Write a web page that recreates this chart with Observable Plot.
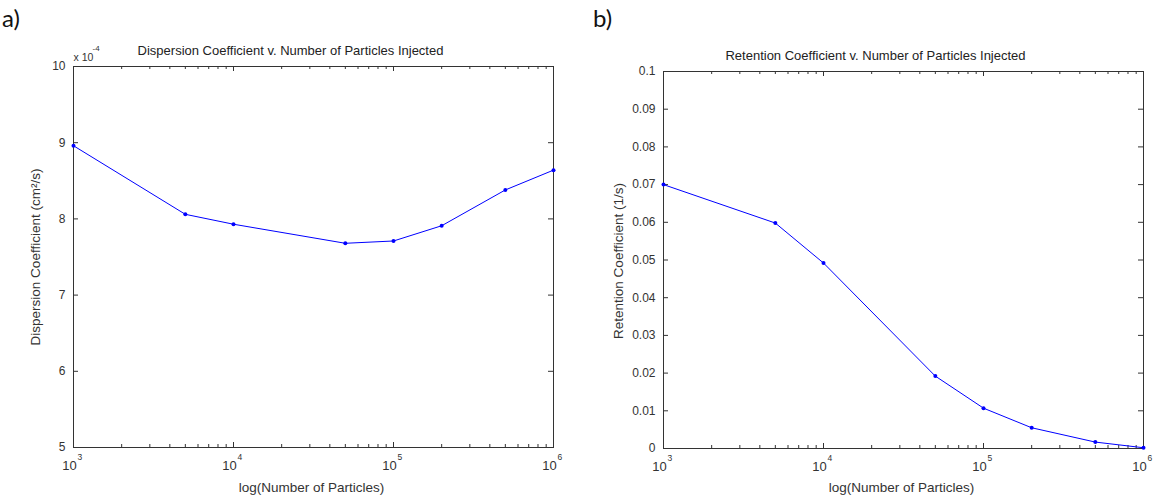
<!DOCTYPE html>
<html>
<head>
<meta charset="utf-8">
<script src="https://cdn.jsdelivr.net/npm/d3@7"></script>
<script src="https://cdn.jsdelivr.net/npm/@observablehq/plot@0.6"></script>
<style>
  html, body { margin: 0; padding: 0; background: #fff; }
  #wrap { position: relative; width: 1158px; height: 496px; overflow: hidden; background: #fff; }
  .panel { position: absolute; top: 0; }
  .tag { position: absolute; font-family: Lato, "Open Sans", sans-serif; font-size: 24px; line-height: 24px; color: #111; }
</style>
</head>
<body>
<div id="wrap">
  <div class="tag" style="left:2px; top:6px;">a)</div>
  <div class="tag" style="left:593px; top:6px;">b)</div>
  <div id="pa" class="panel" style="left:0px;"></div>
  <div id="pb" class="panel" style="left:579px;"></div>
</div>
<script>
// ---- data ----
const particles = [1e3, 5e3, 1e4, 5e4, 1e5, 2e5, 5e5, 1e6];
const dispersion = [8.96e-4, 8.06e-4, 7.93e-4, 7.68e-4, 7.71e-4, 7.91e-4, 8.38e-4, 8.64e-4];
const retention = [0.070, 0.0598, 0.0492, 0.0192, 0.0107, 0.0055, 0.0017, 0.0002];

const xMajorTicks = [1e3, 1e4, 1e5, 1e6];
const xMajorBase = "10";
const xMajorExponents = ["3", "4", "5", "6"];
const xMinorTicks = [2e3, 3e3, 4e3, 5e3, 6e3, 7e3, 8e3, 9e3,
                     2e4, 3e4, 4e4, 5e4, 6e4, 7e4, 8e4, 9e4,
                     2e5, 3e5, 4e5, 5e5, 6e5, 7e5, 8e5, 9e5];

const dispTicks = [5e-4, 6e-4, 7e-4, 8e-4, 9e-4, 10e-4];
const dispTickLabels = ["5", "6", "7", "8", "9", "10"];
const retTicks = [0, 0.01, 0.02, 0.03, 0.04, 0.05, 0.06, 0.07, 0.08, 0.09, 0.1];
const retTickLabels = ["0", "0.01", "0.02", "0.03", "0.04", "0.05", "0.06", "0.07", "0.08", "0.09", "0.1"];

const titleA = "Dispersion Coefficient v. Number of Particles Injected";
const titleB = "Retention Coefficient v. Number of Particles Injected";
const yLabelA = "Dispersion Coefficient (cm²/s)";
const yLabelB = "Retention Coefficient (1/s)";
const xLabel = "log(Number of Particles)";
const scaleBaseA = "x 10";
const scaleExpA = "-4";

const rowsA = particles.map((p, i) => ({p, v: dispersion[i]}));
const rowsB = particles.map((p, i) => ({p, v: retention[i]}));

const AX = "#333333";
const BLUE = "#0000ff";
const FONT = "'Liberation Sans', Arial, sans-serif";

function panel({rows, yDomain, yTicks, yLabels, title, titleDx, yLabel, yLabelDx, yLabelDy, extra,
                marginLeft, marginRight, marginTop, marginBottom, xLabelDy}) {
  const W = 579, H = 496;
  const fw = W - marginLeft - marginRight;
  const fh = H - marginTop - marginBottom;
  const marks = [
    Plot.frame({stroke: AX, strokeWidth: 1}),
    // inward ticks (bottom/top major and minor)
    Plot.tickX(xMajorTicks, {x: d => d, insetTop: fh - 5, stroke: AX}),
    Plot.tickX(xMajorTicks, {x: d => d, insetBottom: fh - 5, stroke: AX}),
    Plot.tickX(xMinorTicks, {x: d => d, insetTop: fh - 3, stroke: AX}),
    Plot.tickX(xMinorTicks, {x: d => d, insetBottom: fh - 3, stroke: AX}),
    // left/right y ticks
    Plot.tickY(yTicks, {y: d => d, insetRight: fw - 5, stroke: AX}),
    Plot.tickY(yTicks, {y: d => d, insetLeft: fw - 5, stroke: AX}),
    // x tick labels: base "10" plus superscript exponent
    Plot.text(xMajorTicks, {x: d => d, text: () => xMajorBase, frameAnchor: "bottom", textAnchor: "middle",
                            lineAnchor: "bottom", dx: -4, dy: 22, fontSize: 13, fill: AX}),
    Plot.text(xMajorTicks, {x: d => d, text: (d, i) => xMajorExponents[i], frameAnchor: "bottom", textAnchor: "start",
                            lineAnchor: "bottom", dx: 4, dy: 12, fontSize: 8.5, fill: AX}),
    Plot.axisY({ticks: yTicks, tickSize: 0, tickPadding: 8, label: null, fontSize: 12, fill: AX,
                tickFormat: d => yLabels[yTicks.findIndex(t => Math.abs(t - d) < 1e-12)]}),
    Plot.line(rows, {x: "p", y: "v", stroke: BLUE, strokeWidth: 1}),
    Plot.dot(rows, {x: "p", y: "v", r: 2, fill: BLUE, stroke: "none"}),
    Plot.text([title], {text: d => d, frameAnchor: "top", textAnchor: "middle", dx: titleDx, dy: -12,
                        lineAnchor: "bottom", fontSize: 13, fill: "#222"}),
    Plot.text([yLabel], {text: d => d, frameAnchor: "left", textAnchor: "middle", rotate: -90,
                         dx: yLabelDx, dy: yLabelDy, fontSize: 13.5, fill: AX}),
    Plot.text([xLabel], {text: d => d, frameAnchor: "bottom", textAnchor: "middle", dx: -2, dy: xLabelDy,
                         lineAnchor: "bottom", fontSize: 13.5, fill: AX})
  ];
  if (extra) marks.push(...extra);
  return Plot.plot({
    width: W, height: H,
    marginLeft, marginRight, marginTop, marginBottom,
    style: {fontFamily: FONT, fontSize: "12px", color: AX, background: "transparent", overflow: "visible"},
    x: {type: "log", domain: [1e3, 1e6], axis: null},
    y: {domain: yDomain, axis: null},
    marks
  });
}

document.getElementById("pa").appendChild(panel({
  rows: rowsA, yDomain: [5e-4, 10e-4], yTicks: dispTicks, yLabels: dispTickLabels,
  title: titleA, titleDx: -23, yLabel: yLabelA, yLabelDx: -38, yLabelDy: 0,
  extra: [
    Plot.text([scaleBaseA], {text: d => d, frameAnchor: "top-left", textAnchor: "start", lineAnchor: "bottom",
                             dx: 0, dy: -6, fontSize: 10.5, fill: AX}),
    Plot.text([scaleExpA], {text: d => d, frameAnchor: "top-left", textAnchor: "start", lineAnchor: "bottom",
                            dx: 19, dy: -16, fontSize: 8, fill: AX})
  ],
  marginLeft: 73, marginRight: 26, marginTop: 66, marginBottom: 49, xLabelDy: 44
}));

document.getElementById("pb").appendChild(panel({
  rows: rowsB, yDomain: [0, 0.1], yTicks: retTicks, yLabels: retTickLabels,
  title: titleB, titleDx: -28, yLabel: yLabelB, yLabelDx: -45, yLabelDy: 1,
  marginLeft: 84, marginRight: 15, marginTop: 71, marginBottom: 48, xLabelDy: 43
}));
</script>
</body>
</html>
